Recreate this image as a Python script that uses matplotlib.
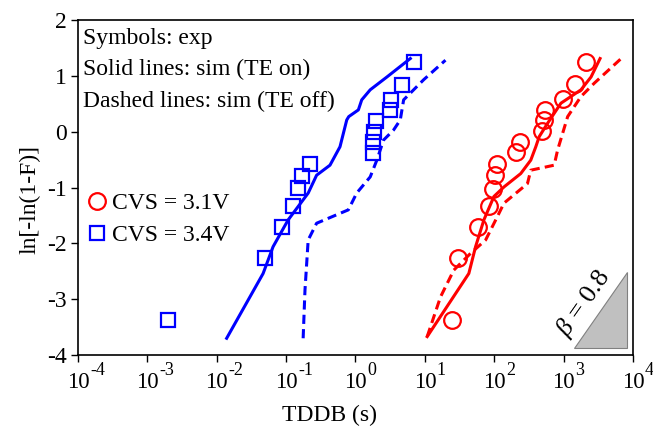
import matplotlib
matplotlib.use('Agg')
import matplotlib.pyplot as plt
from matplotlib.lines import Line2D
import numpy as np

plt.rcParams['font.family'] = ['Liberation Serif', 'DejaVu Serif']
plt.rcParams['mathtext.fontset'] = 'custom'
plt.rcParams['mathtext.rm'] = 'Liberation Serif'
plt.rcParams['mathtext.it'] = 'Liberation Serif:italic'
plt.rcParams['axes.unicode_minus'] = False

# experimental points, CVS = 3.4V (blue squares)
t_exp_34 = [0.00196, 0.049, 0.086, 0.124, 0.149, 0.167, 0.220, 1.78, 1.80, 1.85, 1.97, 3.16, 3.2, 4.68, 7.05]
f_exp_34 = [-3.37, -2.26, -1.71, -1.33, -1.01, -0.79, -0.57, -0.39, -0.18, 0.0, 0.19, 0.39, 0.57, 0.84, 1.24]

# experimental points, CVS = 3.1V (red circles)
t_exp_31 = [25.0, 29.8, 58.1, 83.8, 97, 102, 108, 204, 235, 481, 514, 536, 967, 1457, 2103]
f_exp_31 = [-3.37, -2.27, -1.70, -1.33, -1.03, -0.78, -0.57, -0.36, -0.18, 0.02, 0.21, 0.39, 0.58, 0.85, 1.24]

# simulation, TE on (solid)
t_on_34 = [0.0139, 0.0466, 0.0649, 0.107, 0.208, 0.275, 0.429, 0.598, 0.748, 0.80, 1.10, 1.23, 1.63, 2.84, 6.17]
f_on_34 = [-3.70, -2.54, -2.06, -1.58, -1.10, -0.78, -0.60, -0.27, 0.21, 0.27, 0.39, 0.57, 0.75, 0.98, 1.31]
t_on_31 = [10.8, 43.0, 53.8, 70.9, 99, 138, 241, 336, 397, 444, 587, 914, 1778, 2484, 3350]
f_on_31 = [-3.67, -2.54, -2.06, -1.58, -1.16, -0.99, -0.75, -0.51, -0.27, -0.09, 0.15, 0.51, 0.75, 0.98, 1.31]

# simulation, TE off (dashed)
t_off_34 = [0.176, 0.187, 0.208, 0.275, 0.789, 1.04, 1.63, 2.03, 2.54, 3.54, 4.42, 4.94, 6.17, 9.6, 19.8]
f_off_34 = [-3.70, -2.84, -1.94, -1.64, -1.40, -1.10, -0.81, -0.51, -0.15, 0.03, 0.21, 0.57, 0.69, 0.93, 1.28]
t_off_31 = [10.8, 16.8, 26.1, 45.5, 75.1, 111, 138, 301, 336, 731, 818, 1143, 1778, 2773, 6750]
f_off_31 = [-3.67, -2.96, -2.48, -2.18, -1.94, -1.52, -1.28, -0.93, -0.69, -0.60, -0.33, 0.27, 0.63, 0.87, 1.31]

# slope triangle (beta = 0.8)
tri_x = [1423, 8243, 8243]
tri_y = [-3.88, -3.88, -2.51]

x_exp = list(range(-4, 5))
y_ticks = list(range(-4, 3))

fig = plt.figure(figsize=(6.53, 4.32), dpi=100)
ax = fig.add_axes([0.1194, 0.1782, 0.85, 0.7755])

lw = 2.2
dash = (0, (3, 1.7))
ax.plot(t_on_34, f_on_34, color='blue', lw=lw)
ax.plot(t_off_34, f_off_34, color='blue', lw=lw, linestyle=dash)
ax.plot(t_on_31, f_on_31, color='red', lw=lw)
ax.plot(t_off_31, f_off_31, color='red', lw=lw, linestyle=dash)
ax.plot(t_exp_34, f_exp_34, 's', ms=10, mfc='none', mec='blue', mew=1.6, linestyle='none')
ax.plot(t_exp_31, f_exp_31, 'o', ms=12, mfc='none', mec='red', mew=1.6, linestyle='none')

ax.fill(tri_x, tri_y, facecolor='#c0c0c0', edgecolor='#808080', lw=0.8)
ax.text(1950, -3.08, r'$\beta$ = 0.8', fontsize=19, rotation=55, ha='center', va='center')

ax.set_xscale('log')
ax.set_xlim(1e-4, 1e4)
ax.set_ylim(-4, 2)
ax.set_xticks([10.0**k for k in x_exp])
ax.set_xticklabels([])
ax.xaxis.set_minor_locator(matplotlib.ticker.NullLocator())
ax.set_yticks(y_ticks)
ax.tick_params(direction='out', length=5, width=1, labelsize=17, pad=3)
for s in ax.spines.values():
    s.set_linewidth(1.2)

# x tick labels drawn as "10" plus a raised exponent
for k in x_exp:
    ax.annotate('10', xy=(10.0**k, 0), xycoords=('data', 'axes fraction'),
                xytext=(0, -24), textcoords='offset points', ha='center', va='baseline',
                fontsize=16.5, annotation_clip=False)
    ax.annotate(str(k), xy=(10.0**k, 0), xycoords=('data', 'axes fraction'),
                xytext=(8.6, -14.4), textcoords='offset points', ha='left', va='baseline',
                fontsize=13, annotation_clip=False)

ax.set_xlabel('TDDB (s)', fontsize=17)
ax.set_ylabel('ln[-ln(1-F)]', fontsize=17)
ax.xaxis.set_label_coords(0.454, -0.15)
ax.yaxis.set_label_coords(-0.068, 0.463)

for yy, s in zip([0.946, 0.851, 0.756],
                 ['Symbols: exp', 'Solid lines: sim (TE on)', 'Dashed lines: sim (TE off)']):
    ax.text(0.009, yy, s, transform=ax.transAxes, fontsize=17, va='center', ha='left')

handles = [Line2D([], [], marker='o', ms=12, mfc='none', mec='red', mew=1.6, linestyle='none'),
           Line2D([], [], marker='s', ms=10, mfc='none', mec='blue', mew=1.6, linestyle='none')]
ax.legend(handles, ['CVS = 3.1V', 'CVS = 3.4V'], loc='center left', bbox_to_anchor=(-0.03, 0.405),
          frameon=False, fontsize=17, handletextpad=0.05, handlelength=1.2, labelspacing=0.45)

fig.savefig('out.png', dpi=100)
